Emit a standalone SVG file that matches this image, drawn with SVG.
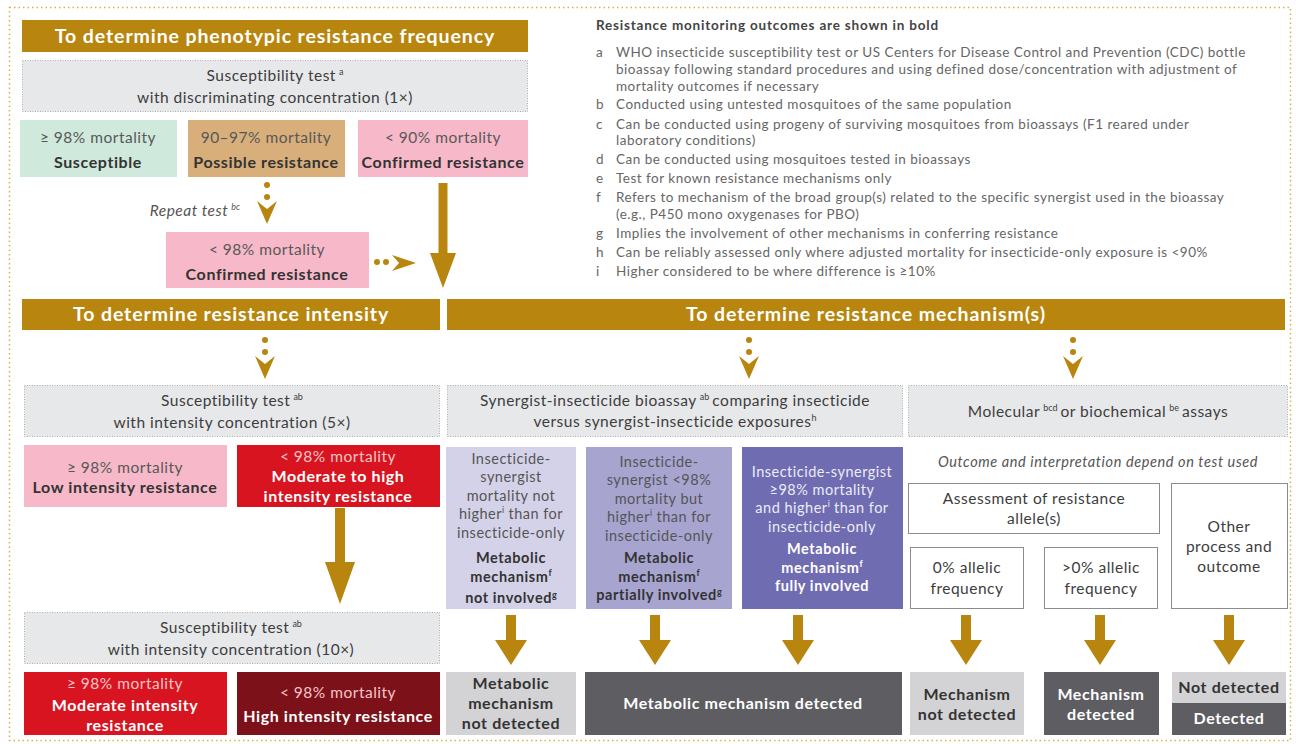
<svg xmlns="http://www.w3.org/2000/svg" xmlns:xlink="http://www.w3.org/1999/xlink" width="1296" height="744" viewBox="0 0 1296 744">
<style>
text{font-family:Lato,"Open Sans","Liberation Sans",sans-serif;}
.ban{fill:#b8860f;}
.bt{fill:#fff;font-size:19.5px;font-weight:bold;text-anchor:middle;letter-spacing:0.9px;}
.gbox{fill:#e7e8ea;stroke:#adadad;stroke-width:1;stroke-dasharray:1 1.5;}
.gt{fill:#3d3d3d;font-size:15.5px;text-anchor:middle;letter-spacing:0.5px;}
.rt{fill:#585858;font-size:15.5px;text-anchor:middle;letter-spacing:0.5px;}
.bd{fill:#333;font-size:16px;font-weight:bold;text-anchor:middle;letter-spacing:0.6px;}
.wr{fill:#f6c4c8;font-size:15.5px;text-anchor:middle;letter-spacing:0.5px;}
.wb{fill:#fff;font-size:16px;font-weight:bold;text-anchor:middle;letter-spacing:0.6px;}
.lt{fill:#555;font-size:14.5px;text-anchor:middle;letter-spacing:0.5px;}
.lb{fill:#333;font-size:14.5px;font-weight:bold;text-anchor:middle;letter-spacing:0.6px;}
.pt{fill:#ecebf6;font-size:14.5px;text-anchor:middle;letter-spacing:0.5px;}
.pb{fill:#fff;font-size:14.5px;font-weight:bold;text-anchor:middle;letter-spacing:0.6px;}
.wbox{fill:#fff;stroke:#8c8c8c;stroke-width:1;}
.leg{fill:#666;font-size:13.5px;letter-spacing:0.5px;}
.legh{fill:#444;font-size:13.5px;font-weight:bold;letter-spacing:0.8px;}
.arr{fill:#b8860f;}
.sup{font-size:9px;letter-spacing:0;}
</style>
<defs>
<g id="dd" class="arr"><circle cx="0" cy="-16" r="3"/><circle cx="0" cy="-4" r="3"/><path d="M-10,0 L0,8 L10,0 L0,23 Z"/></g>
</defs>
<rect x="9.5" y="7.5" width="1281" height="733" fill="none" stroke="#d8b247" stroke-width="1.5" stroke-dasharray="1.5 3"/>

<g id="banner-frequency"><rect class="ban" x="22" y="20" width="506" height="32"/><text class="bt" x="275" y="43">To determine phenotypic resistance frequency</text></g>
<g id="test-1x"><rect class="gbox" x="22.5" y="60.5" width="505" height="51"/><text class="gt" x="275" y="81">Susceptibility test<tspan class="sup" dx="3" dy="-6">a</tspan></text><text class="gt" x="275" y="103">with discriminating concentration (1×)</text></g>
<g id="susceptible"><rect x="20" y="120" width="157" height="57" fill="#cfe9dc"/><text class="rt" x="98" y="143">≥ 98% mortality</text><text class="bd" x="98" y="168">Susceptible</text></g>
<g id="possible"><rect x="188" y="120" width="157" height="57" fill="#d8af7b"/><text class="rt" x="266" y="143">90–97% mortality</text><text class="bd" x="266" y="168">Possible resistance</text></g>
<g id="confirmed"><rect x="358" y="120" width="170" height="57" fill="#f7b9c9"/><text class="rt" x="443" y="143">&lt; 90% mortality</text><text class="bd" x="443" y="168">Confirmed resistance</text></g>
<g id="repeat-label"><text x="240" y="216" style="fill:#555;font-size:15.5px;font-style:italic;text-anchor:end;letter-spacing:0.5px">Repeat test<tspan class="sup" dx="3" dy="-6">bc</tspan></text></g>
<g id="confirmed-2"><rect x="166" y="232" width="203" height="56" fill="#f7b9c9"/><text class="rt" x="267" y="255">&lt; 98% mortality</text><text class="bd" x="267" y="280">Confirmed resistance</text></g>

<g id="legend">
<text class="legh" x="596" y="30">Resistance monitoring outcomes are shown in bold</text>
<g class="leg">
<text x="596" y="57">a</text><text x="616" y="57">WHO insecticide susceptibility test or US Centers for Disease Control and Prevention (CDC) bottle</text>
<text x="616" y="74">bioassay following standard procedures and using defined dose/concentration with adjustment of</text>
<text x="616" y="91">mortality outcomes if necessary</text>
<text x="596" y="109">b</text><text x="616" y="109">Conducted using untested mosquitoes of the same population</text>
<text x="596" y="129">c</text><text x="616" y="129">Can be conducted using progeny of surviving mosquitoes from bioassays (F1 reared under</text>
<text x="616" y="145">laboratory conditions)</text>
<text x="596" y="164">d</text><text x="616" y="164">Can be conducted using mosquitoes tested in bioassays</text>
<text x="596" y="183">e</text><text x="616" y="183">Test for known resistance mechanisms only</text>
<text x="596" y="202">f</text><text x="616" y="202">Refers to mechanism of the broad group(s) related to the specific synergist used in the bioassay</text>
<text x="616" y="219">(e.g., P450 mono oxygenases for PBO)</text>
<text x="596" y="238">g</text><text x="616" y="238">Implies the involvement of other mechanisms in conferring resistance</text>
<text x="596" y="257">h</text><text x="616" y="257">Can be reliably assessed only where adjusted mortality for insecticide-only exposure is &lt;90%</text>
<text x="596" y="276">i</text><text x="616" y="276">Higher considered to be where difference is ≥10%</text>
</g>
</g>

<g id="banner-intensity"><rect class="ban" x="22" y="299" width="418" height="31"/><text class="bt" x="231" y="321">To determine resistance intensity</text></g>
<g id="banner-mechanism"><rect class="ban" x="447" y="299" width="838" height="31"/><text class="bt" x="866" y="321">To determine resistance mechanism(s)</text></g>

<g id="test-5x"><rect class="gbox" x="24.5" y="385.5" width="415" height="51"/><text class="gt" x="232" y="406">Susceptibility test<tspan class="sup" dx="3" dy="-6">ab</tspan></text><text class="gt" x="232" y="428">with intensity concentration (5×)</text></g>
<g id="low-intensity"><rect x="24" y="445" width="203" height="62" fill="#f7b9c9"/><text class="rt" x="125" y="473">≥ 98% mortality</text><text class="bd" x="125" y="493">Low intensity resistance</text></g>
<g id="mod-high"><rect x="237" y="445" width="203" height="62" fill="#d7141f"/><text class="wr" x="338" y="462">&lt; 98% mortality</text><text class="wb" x="338" y="482">Moderate to high</text><text class="wb" x="338" y="502">intensity resistance</text></g>
<g id="test-10x"><rect class="gbox" x="24.5" y="612.5" width="415" height="51"/><text class="gt" x="231" y="633">Susceptibility test<tspan class="sup" dx="3" dy="-6">ab</tspan></text><text class="gt" x="231" y="655">with intensity concentration (10×)</text></g>
<g id="moderate"><rect x="24" y="672" width="203" height="63" fill="#d7141f"/><text class="wr" x="125" y="689">≥ 98% mortality</text><text class="wb" x="125" y="711">Moderate intensity</text><text class="wb" x="125" y="731">resistance</text></g>
<g id="high"><rect x="237" y="672" width="203" height="63" fill="#7d1119"/><text class="wr" x="338" y="698">&lt; 98% mortality</text><text class="wb" x="338" y="722">High  intensity resistance</text></g>

<g id="synergist-test"><rect class="gbox" x="447.5" y="385.5" width="455" height="51"/><text class="gt" x="675" y="406">Synergist-insecticide bioassay<tspan class="sup" dx="3" dy="-6">ab</tspan><tspan dx="3" dy="6">comparing insecticide</tspan></text><text class="gt" x="675" y="427">versus synergist-insecticide exposures<tspan class="sup" dy="-6">h</tspan></text></g>
<g id="not-involved"><rect x="446" y="447" width="130" height="162" fill="#d4d2e9"/>
<text class="lt" x="511" y="464">Insecticide-</text><text class="lt" x="511" y="482">synergist</text><text class="lt" x="511" y="501">mortality not</text><text class="lt" x="511" y="519">higher<tspan class="sup" dy="-6">i</tspan><tspan dy="6"> than for</tspan></text><text class="lt" x="511" y="538">insecticide-only</text>
<text class="lb" x="511" y="563">Metabolic</text><text class="lb" x="511" y="582">mechanism<tspan class="sup" dy="-6">f</tspan></text><text class="lb" x="511" y="603">not involved<tspan class="sup" dy="-5">g</tspan></text></g>
<g id="partially"><rect x="586" y="447" width="146" height="162" fill="#a7a4d0"/>
<text class="lt" x="659" y="467">Insecticide-</text><text class="lt" x="659" y="485">synergist &lt;98%</text><text class="lt" x="659" y="504">mortality but</text><text class="lt" x="659" y="522">higher<tspan class="sup" dy="-6">i</tspan><tspan dy="6"> than for</tspan></text><text class="lt" x="659" y="541">insecticide-only</text>
<text class="lb" x="659" y="563">Metabolic</text><text class="lb" x="659" y="582">mechanism<tspan class="sup" dy="-6">f</tspan></text><text class="lb" x="659" y="600">partially involved<tspan class="sup" dy="-5">g</tspan></text></g>
<g id="fully"><rect x="742" y="447" width="161" height="162" fill="#6f6cb1"/>
<text class="pt" x="822" y="477">Insecticide-synergist</text><text class="pt" x="822" y="495">≥98% mortality</text><text class="pt" x="822" y="513">and higher<tspan class="sup" dy="-6">i</tspan><tspan dy="6"> than for</tspan></text><text class="pt" x="822" y="532">insecticide-only</text>
<text class="pb" x="822" y="554">Metabolic</text><text class="pb" x="822" y="573">mechanism<tspan class="sup" dy="-6">f</tspan></text><text class="pb" x="822" y="591">fully involved</text></g>

<g id="molecular-test"><rect class="gbox" x="908.5" y="385.5" width="379" height="51"/><text class="gt" x="1098" y="417">Molecular<tspan class="sup" dx="3" dy="-6">bcd</tspan><tspan dx="3" dy="6">or biochemical</tspan><tspan class="sup" dx="3" dy="-6">be</tspan><tspan dx="3" dy="6">assays</tspan></text></g>
<g id="outcome-note"><text x="1098" y="467" style="fill:#555;font-size:14.5px;font-style:italic;text-anchor:middle;letter-spacing:0.6px">Outcome and interpretation depend on test used</text></g>
<g id="assessment"><rect class="wbox" x="908.5" y="483.5" width="251" height="50"/><text class="gt" x="1034" y="504">Assessment of resistance</text><text class="gt" x="1034" y="524">allele(s)</text></g>
<g id="zero-freq"><rect class="wbox" x="910.5" y="547.5" width="113" height="61"/><text class="gt" x="967" y="573">0% allelic</text><text class="gt" x="967" y="594">frequency</text></g>
<g id="pos-freq"><rect class="wbox" x="1044.5" y="547.5" width="113" height="61"/><text class="gt" x="1101" y="573">&gt;0% allelic</text><text class="gt" x="1101" y="594">frequency</text></g>
<g id="other"><rect class="wbox" x="1171.5" y="483.5" width="116" height="125"/><text class="gt" x="1229" y="532">Other</text><text class="gt" x="1229" y="552">process and</text><text class="gt" x="1229" y="572">outcome</text></g>

<g id="metab-not-detected"><rect x="446" y="672" width="130" height="63" fill="#d3d3d5"/><text class="bd" x="511" y="689">Metabolic</text><text class="bd" x="511" y="709">mechanism</text><text class="bd" x="511" y="729">not detected</text></g>
<g id="metab-detected"><rect x="585" y="672" width="317" height="63" fill="#5e5d62"/><text class="wb" x="743" y="709">Metabolic mechanism detected</text></g>
<g id="mech-not-detected"><rect x="910" y="672" width="114" height="63" fill="#d3d3d5"/><text class="bd" x="967" y="700">Mechanism</text><text class="bd" x="967" y="720">not detected</text></g>
<g id="mech-detected"><rect x="1044" y="672" width="115" height="63" fill="#5e5d62"/><text class="wb" x="1101" y="700">Mechanism</text><text class="wb" x="1101" y="720">detected</text></g>
<g id="other-result"><rect x="1172" y="672" width="114" height="31" fill="#d3d3d5"/><rect x="1172" y="703" width="114" height="32" fill="#5e5d62"/><text class="bd" x="1229" y="693">Not detected</text><text class="wb" x="1229" y="724">Detected</text></g>

<g id="connectors" class="arr">
<use xlink:href="#dd" x="267" y="201"/>
<use xlink:href="#dd" x="265" y="356"/>
<use xlink:href="#dd" x="749" y="356"/>
<use xlink:href="#dd" x="1073" y="356"/>
<circle cx="377" cy="262" r="3"/><circle cx="386" cy="262" r="3"/>
<path d="M392,255 L416,263 L392,271 L399,263 Z"/>
<polygon points="438.5,183 447.5,183 447.5,253 456,253 443,288 430,253 438.5,253"/>
<polygon points="335,508 345,508 345,562 355,562 340,604 325,562 335,562"/>
<polygon points="506,615 516,615 516,640 527,640 511,665 495,640 506,640"/>
<polygon points="650,615 660,615 660,640 671,640 655,665 639,640 650,640"/>
<polygon points="793,615 803,615 803,640 814,640 798,665 782,640 793,640"/>
<polygon points="961,615 971,615 971,640 982,640 966,665 950,640 961,640"/>
<polygon points="1095,615 1105,615 1105,640 1116,640 1100,665 1084,640 1095,640"/>
<polygon points="1224,615 1234,615 1234,640 1245,640 1229,665 1213,640 1224,640"/>
</g>
</svg>
